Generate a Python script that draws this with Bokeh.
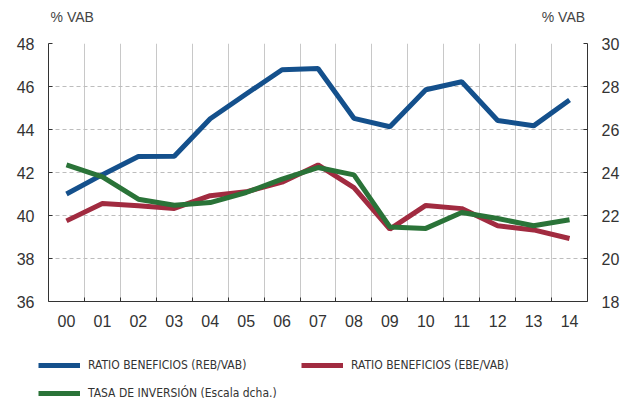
from bokeh.plotting import figure
from bokeh.layouts import column, row
from bokeh.models import (Range1d, LinearAxis, FixedTicker, Legend, LegendItem)
from bokeh.embed import file_html
from bokeh.resources import INLINE

years = ["00", "01", "02", "03", "04", "05", "06", "07", "08", "09", "10", "11", "12", "13", "14"]
reb_vab = [41.0, 41.9, 42.74, 42.76, 44.5, 45.65, 46.78, 46.84, 44.52, 44.13, 45.85, 46.22, 44.42, 44.17, 45.37]
ebe_vab = [39.75, 40.56, 40.45, 40.33, 40.92, 41.1, 41.55, 42.35, 41.3, 39.37, 40.47, 40.32, 39.52, 39.33, 38.93]
tasa_inv = [24.36, 23.8, 22.76, 22.48, 22.6, 23.07, 23.69, 24.23, 23.89, 21.47, 21.4, 22.14, 21.86, 21.52, 21.8]
left_ticks = [36, 38, 40, 42, 44, 46, 48]
right_ticks = [18, 20, 22, 24, 26, 28, 30]
unit_label = "% VAB"
labels = ["RATIO BENEFICIOS (REB/VAB)", "RATIO BENEFICIOS (EBE/VAB)", "TASA DE INVERSIÓN (Escala dcha.)"]

BLUE = "#14508c"
RED = "#a12b40"
GREEN = "#2a7338"
TXT = "#333333"
FONT = "Liberation Sans"

xs = list(range(len(years)))

p = figure(width=630, height=345, output_backend="svg", toolbar_location=None,
           x_range=Range1d(-0.5, len(years) - 0.5), y_range=Range1d(36, 48),
           min_border_left=48, min_border_right=43, min_border_top=43, min_border_bottom=44)
p.outline_line_color = None
p.background_fill_color = "white"
p.extra_y_ranges = {"right": Range1d(18, 30)}

# axes
p.xaxis.ticker = FixedTicker(ticks=xs, minor_ticks=[i + 0.5 for i in xs[:-1]])
p.xaxis.major_label_overrides = {i: y for i, y in enumerate(years)}
p.xaxis.major_tick_in = 0
p.xaxis.major_tick_out = 0
p.xaxis.minor_tick_in = 4
p.xaxis.minor_tick_out = 0
p.xaxis.minor_tick_line_color = TXT
p.xaxis.major_label_standoff = 13

p.yaxis.ticker = FixedTicker(ticks=left_ticks)
p.yaxis.major_tick_in = 4
p.yaxis.major_tick_out = 0
p.yaxis.minor_tick_line_color = None
p.yaxis.major_label_standoff = 14

raxis = LinearAxis(y_range_name="right", ticker=FixedTicker(ticks=right_ticks))
raxis.major_tick_in = 4
raxis.major_tick_out = 0
raxis.minor_tick_line_color = None
raxis.major_label_standoff = 14
p.add_layout(raxis, "right")

for ax in [p.xaxis[0], p.yaxis[0], raxis]:
    ax.axis_line_color = TXT
    ax.major_tick_line_color = TXT
    ax.major_label_text_font = FONT
    ax.major_label_text_font_size = "16px"
    ax.major_label_text_color = TXT

# unit labels as a tickless top axis
top = LinearAxis(ticker=FixedTicker(ticks=[0.16, 13.83]),
                 major_label_overrides={0.16: unit_label, 13.83: unit_label})
top.axis_line_color = None
top.major_tick_line_color = None
top.minor_tick_line_color = None
top.major_tick_in = 0
top.major_tick_out = 0
top.major_label_standoff = 19
top.major_label_text_font = FONT
top.major_label_text_font_size = "14px"
top.major_label_text_color = "#444444"
p.add_layout(top, "above")

# grids
p.xgrid.ticker = FixedTicker(ticks=[i + 0.5 for i in xs[:-1]])
p.xgrid.grid_line_color = "#c8c8c8"
p.xgrid.grid_line_width = 1
p.ygrid.ticker = FixedTicker(ticks=left_ticks[1:])
p.ygrid.grid_line_color = "#bdbdbd"
p.ygrid.grid_line_dash = "4 3"

# lines
p.line(xs, reb_vab, line_color=BLUE, line_width=5)
p.line(xs, ebe_vab, line_color=RED, line_width=5)
p.line(xs, tasa_inv, line_color=GREEN, line_width=5, y_range_name="right")

# legend strip (series drawn outside its visible range; only the legend shows)
q = figure(width=630, height=58, output_backend="svg", toolbar_location=None,
           x_axis_type=None, y_axis_type=None, x_range=Range1d(-100, -99), y_range=Range1d(-100, -99),
           min_border_left=0, min_border_right=0, min_border_top=0, min_border_bottom=0)
q.outline_line_color = None
q.grid.visible = False
l1 = q.line(xs, reb_vab, line_color=BLUE, line_width=5)
l2 = q.line(xs, ebe_vab, line_color=RED, line_width=5)
l3 = q.line(xs, tasa_inv, line_color=GREEN, line_width=5)

legend = Legend(items=[LegendItem(label=labels[0], renderers=[l1]),
                       LegendItem(label=labels[1], renderers=[l2]),
                       LegendItem(label=labels[2], renderers=[l3])],
                orientation="horizontal", ncols=2, location=(38, 0),
                glyph_width=42, glyph_height=20, label_standoff=8, label_width=205,
                spacing=8, padding=0, margin=0,
                label_text_font="DejaVu Sans Condensed", label_text_font_size="12px",
                label_text_color=TXT, border_line_color=None, background_fill_alpha=0)
q.add_layout(legend, "center")

open("out.html", "w").write(file_html(column(p, row(q, spacing=0), spacing=0), INLINE))
